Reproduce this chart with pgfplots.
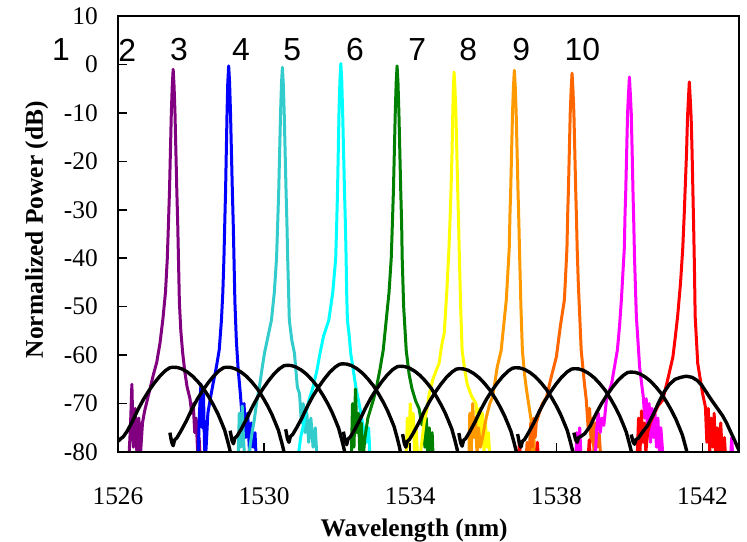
\documentclass[border=0pt]{standalone}
\usepackage{fontspec}
\setmainfont{Liberation Serif}
\newfontfamily\arial{Liberation Sans}
\usepackage{pgfplots}
\pgfplotsset{compat=1.18}

\definecolor{cpurple}{HTML}{800080}
\definecolor{cblue}{HTML}{0000FF}
\definecolor{cteal}{HTML}{33CCCC}
\definecolor{ccyan}{HTML}{00FFFF}
\definecolor{cgreen}{HTML}{008000}
\definecolor{cyellow}{HTML}{FFFF00}
\definecolor{corange}{HTML}{FF9900}
\definecolor{cdorange}{HTML}{FF6600}
\definecolor{cmagenta}{HTML}{FF00FF}
\definecolor{cred}{HTML}{FF0000}

\begin{document}
\begin{tikzpicture}
\begin{axis}[
    scale only axis,
    width=621bp, height=436bp,
    xmin=1526, xmax=1543, ymin=-80, ymax=10,
    xtick={1526,1530,1534,1538,1542},
    xticklabels={1526,1530,1534,1538,1542},
    ytick={-80,-70,-60,-50,-40,-30,-20,-10,0,10},
    yticklabels={-80,-70,-60,-50,-40,-30,-20,-10,0,10},
    tick pos=left, tick align=inside,
    major tick length=9bp,
    tick style={black, line width=1.5bp},
    axis line style={line width=2.4bp},
    ticklabel style={font=\fontsize{25.5}{30}\selectfont},
    yticklabel style={anchor=east, inner sep=0pt, xshift=-20bp},
    xticklabel style={anchor=north, inner sep=0pt, yshift=-35bp},
    xlabel={\textbf{Wavelength (nm)}},
    ylabel={\textbf{Normalized Power (dB)}},
    label style={font=\fontsize{25.5}{30}\selectfont},
    xlabel style={at={(axis description cs:0.477,0)}, anchor=base, yshift=-84bp},
    ylabel style={at={(axis description cs:-0.1208,0.51)}, anchor=base},
    clip mode=individual,
    axis on top,
    every axis plot/.append style={line join=round},
]

% channel spectra
\addplot[cpurple, line width=3bp] coordinates {
(1526.28,-84) (1526.34,-75) (1526.38,-66) (1526.42,-79) (1526.47,-71) (1526.52,-81) (1526.57,-73) (1526.62,-80) (1526.67,-74)
(1526.73,-71.5) (1526.81,-69) (1526.89,-66.5) (1526.97,-64) (1527.06,-61.5) (1527.15,-57.5) (1527.23,-52.5) (1527.30,-47)
(1527.35,-40) (1527.385,-32) (1527.41,-26) (1527.435,-18) (1527.46,-10) (1527.485,-4.5) (1527.51,-1.0)
(1527.535,-4.5) (1527.56,-10) (1527.585,-18) (1527.61,-26) (1527.635,-33) (1527.655,-40) (1527.68,-49) (1527.72,-55)
(1527.77,-59.5) (1527.83,-63.5) (1527.89,-66.5) (1527.97,-69) (1528.02,-72) (1528.06,-70) (1528.10,-76) (1528.14,-73)
(1528.18,-80) (1528.22,-77) (1528.27,-84)
};
\addplot[cblue, line width=3bp] coordinates {
(1528.18,-84) (1528.23,-72) (1528.27,-66) (1528.31,-75) (1528.34,-68) (1528.38,-83) (1528.42,-78) (1528.46,-72)
(1528.52,-69.3) (1528.60,-66) (1528.68,-63) (1528.77,-59) (1528.83,-53) (1528.87,-47) (1528.90,-40) (1528.925,-32)
(1528.945,-26) (1528.965,-18) (1528.985,-10) (1529.005,-3.8) (1529.03,-0.3)
(1529.055,-3.8) (1529.08,-10) (1529.105,-18) (1529.13,-26) (1529.155,-33) (1529.175,-40) (1529.20,-49) (1529.24,-57)
(1529.29,-63) (1529.35,-68) (1529.40,-73) (1529.45,-70) (1529.50,-77) (1529.55,-72) (1529.60,-80) (1529.65,-74)
(1529.70,-79) (1529.75,-76) (1529.80,-84)
};
\addplot[cteal, line width=3bp] coordinates {
(1529.28,-84) (1529.32,-72) (1529.36,-79) (1529.40,-70.5) (1529.44,-78) (1529.48,-83) (1529.56,-84) (1529.60,-79.6)
(1529.67,-76) (1529.73,-73.4) (1529.80,-69.5) (1529.87,-66.6) (1529.94,-63) (1530.01,-59.6) (1530.11,-56) (1530.20,-52.8)
(1530.28,-47) (1530.34,-40) (1530.375,-32) (1530.40,-26) (1530.425,-18) (1530.45,-10) (1530.475,-4.1) (1530.50,-0.6)
(1530.525,-4.1) (1530.55,-10) (1530.575,-18) (1530.60,-26) (1530.625,-33) (1530.645,-40) (1530.67,-47) (1530.69,-52.8)
(1530.76,-57) (1530.83,-59.6) (1530.91,-66.6) (1530.97,-68) (1531.02,-74) (1531.07,-70) (1531.12,-76) (1531.17,-72)
(1531.22,-78) (1531.28,-73) (1531.34,-79) (1531.40,-75) (1531.46,-83)
};
\addplot[ccyan, line width=3bp] coordinates {
(1530.90,-84) (1530.95,-80) (1531.00,-77) (1531.06,-75) (1531.14,-72) (1531.24,-69) (1531.34,-66.6) (1531.45,-63)
(1531.53,-59.6) (1531.63,-56) (1531.77,-52.8) (1531.88,-47) (1531.96,-40) (1531.99,-32) (1532.01,-26) (1532.03,-18)
(1532.05,-10) (1532.075,-3.3) (1532.10,0.2)
(1532.125,-3.3) (1532.15,-10) (1532.175,-18) (1532.20,-26) (1532.225,-33) (1532.245,-40) (1532.26,-47) (1532.28,-52.8)
(1532.33,-56) (1532.37,-59.6) (1532.44,-63) (1532.51,-66.6) (1532.60,-70) (1532.68,-73.4) (1532.74,-76) (1532.80,-78)
(1532.86,-75) (1532.90,-81) (1532.95,-84)
};
\addplot[cgreen, line width=3bp] coordinates {
(1532.38,-84) (1532.42,-70) (1532.46,-79) (1532.50,-67) (1532.54,-76) (1532.58,-72) (1532.62,-80) (1532.66,-74)
(1532.70,-82) (1532.76,-77) (1532.84,-73) (1532.92,-71) (1533.00,-69) (1533.08,-66.5) (1533.17,-63) (1533.26,-59)
(1533.34,-53) (1533.42,-47) (1533.48,-40) (1533.515,-32) (1533.54,-26) (1533.565,-18) (1533.59,-10) (1533.615,-3.8)
(1533.64,-0.3)
(1533.665,-3.8) (1533.69,-10) (1533.715,-18) (1533.74,-26) (1533.765,-33) (1533.78,-40) (1533.82,-50) (1533.89,-59)
(1533.97,-64) (1534.05,-67) (1534.15,-69.5) (1534.24,-71) (1534.32,-74.4) (1534.36,-72) (1534.40,-79) (1534.44,-73)
(1534.48,-81) (1534.52,-75) (1534.56,-80) (1534.60,-76) (1534.64,-84)
};
\addplot[cyellow, line width=3bp] coordinates {
(1533.88,-84) (1533.92,-73) (1533.96,-79) (1534.00,-70) (1534.04,-76) (1534.08,-72) (1534.12,-80) (1534.16,-75)
(1534.22,-84) (1534.30,-79) (1534.38,-74) (1534.46,-71) (1534.52,-68) (1534.62,-65) (1534.72,-63) (1534.79,-61.7)
(1534.86,-58) (1534.93,-55.5) (1535.00,-47) (1535.06,-38) (1535.095,-31) (1535.12,-25) (1535.145,-18) (1535.165,-10)
(1535.18,-5.1) (1535.20,-1.6)
(1535.225,-5.1) (1535.25,-10) (1535.275,-18) (1535.30,-26) (1535.325,-33) (1535.34,-38) (1535.38,-50) (1535.42,-59)
(1535.49,-63) (1535.56,-66) (1535.68,-68.5) (1535.80,-70) (1535.86,-76) (1535.90,-71) (1535.94,-78) (1535.98,-72)
(1536.02,-80) (1536.06,-74) (1536.10,-79) (1536.14,-76) (1536.20,-84)
};
\addplot[corange, line width=3bp] coordinates {
(1535.60,-84) (1535.63,-72) (1535.67,-80) (1535.71,-70) (1535.75,-77) (1535.79,-73) (1535.83,-81) (1535.87,-75)
(1535.92,-79) (1535.98,-77) (1536.05,-74) (1536.11,-72) (1536.18,-70) (1536.25,-68.7) (1536.32,-65.5) (1536.38,-62.5)
(1536.49,-59) (1536.57,-53) (1536.63,-48.6) (1536.71,-38) (1536.73,-31) (1536.75,-26) (1536.775,-18) (1536.80,-10)
(1536.825,-4.7) (1536.85,-1.2)
(1536.875,-4.7) (1536.90,-10) (1536.925,-18) (1536.95,-26) (1536.975,-33) (1536.99,-38) (1537.03,-50) (1537.07,-59)
(1537.13,-64) (1537.18,-67) (1537.25,-70.5) (1537.32,-74) (1537.35,-80) (1537.38,-76) (1537.42,-84)
};
\addplot[cdorange, line width=3bp] coordinates {
(1537.15,-84) (1537.20,-78) (1537.25,-81) (1537.30,-74) (1537.34,-79) (1537.38,-73) (1537.42,-77) (1537.45,-74)
(1537.53,-72) (1537.62,-70) (1537.73,-68.7) (1537.86,-64.5) (1538.00,-60.4) (1538.11,-54) (1538.22,-48.6) (1538.29,-38)
(1538.31,-31) (1538.33,-26) (1538.355,-18) (1538.38,-10) (1538.405,-5.3) (1538.43,-1.8)
(1538.455,-5.3) (1538.48,-10) (1538.505,-18) (1538.53,-26) (1538.555,-33) (1538.57,-38) (1538.60,-45) (1538.68,-59)
(1538.77,-66) (1538.82,-69.3) (1538.87,-75) (1538.91,-71) (1538.95,-78) (1538.99,-73) (1539.03,-80) (1539.07,-74)
(1539.12,-79) (1539.17,-76) (1539.24,-84)
};
\addplot[cmagenta, line width=3bp] coordinates {
(1538.52,-84) (1538.56,-76) (1538.60,-80) (1538.64,-75) (1538.68,-82) (1538.80,-84) (1539.05,-84) (1539.10,-75.5)
(1539.15,-72) (1539.20,-76) (1539.25,-73) (1539.30,-74.5) (1539.37,-69.3) (1539.44,-67.5) (1539.51,-66) (1539.59,-62.5)
(1539.67,-59) (1539.73,-54) (1539.78,-48.6) (1539.86,-38) (1539.88,-31) (1539.90,-26) (1539.925,-18) (1539.95,-10)
(1539.975,-6.1) (1540.00,-2.6)
(1540.025,-6.1) (1540.05,-10) (1540.075,-18) (1540.10,-27) (1540.12,-33) (1540.14,-40) (1540.19,-52) (1540.28,-62.5)
(1540.38,-68.7) (1540.42,-73) (1540.46,-69) (1540.50,-76) (1540.54,-70) (1540.58,-78) (1540.62,-71) (1540.66,-77)
(1540.70,-72) (1540.74,-79) (1540.78,-73) (1540.82,-80) (1540.86,-75) (1540.90,-79) (1540.94,-84) (1542.75,-84)
(1542.80,-77) (1542.85,-84)
};
\addplot[cred, line width=3bp] coordinates {
(1536.94,-84) (1536.99,-78) (1537.04,-84) (1537.43,-84) (1537.48,-78) (1537.53,-84) (1538.85,-84) (1538.90,-77.5)
(1538.95,-84) (1540.20,-84) (1540.25,-73) (1540.29,-80) (1540.33,-71.5) (1540.37,-78) (1540.41,-74) (1540.45,-80)
(1540.50,-76) (1540.57,-74) (1540.64,-72.8) (1540.78,-70.5) (1540.91,-69.3) (1541.05,-65) (1541.19,-60.4) (1541.26,-56)
(1541.32,-52) (1541.40,-45) (1541.46,-38) (1541.50,-31) (1541.53,-25) (1541.565,-18) (1541.59,-11) (1541.615,-7.1)
(1541.64,-3.6)
(1541.665,-7.1) (1541.69,-11) (1541.715,-18) (1541.74,-27) (1541.76,-34) (1541.78,-42) (1541.80,-52) (1541.87,-61.7)
(1542.00,-67.8) (1542.08,-70.7) (1542.12,-78) (1542.16,-71) (1542.20,-80) (1542.24,-73) (1542.28,-79) (1542.32,-72)
(1542.36,-81) (1542.40,-75) (1542.45,-80) (1542.50,-74) (1542.55,-82) (1542.60,-77) (1542.66,-84)
};

% filter passbands
\addplot[black, line width=3.4bp] coordinates {
(1526.00,-77.8) (1526.08,-77.2) (1526.14,-76.9) (1526.25,-75.7) (1526.40,-73.6) (1526.55,-71.2) (1526.70,-69.1)
(1526.85,-67.3) (1527.00,-65.7) (1527.15,-64.3) (1527.30,-63.2) (1527.42,-62.6) (1527.50,-62.5) (1527.62,-62.55)
(1527.75,-62.85) (1527.90,-63.5) (1528.05,-64.4) (1528.20,-65.6) (1528.35,-67.0) (1528.50,-68.8) (1528.62,-70.4)
(1528.74,-72.2) (1528.84,-74.0) (1528.92,-75.5) (1529.00,-77.7) (1529.06,-79.5) (1529.12,-81.7)
};
\addplot[black, line width=3.4bp] coordinates {
(1527.42,-76.0) (1527.47,-78.0) (1527.51,-78.7) (1527.55,-77.5) (1527.61,-77.1) (1527.72,-75.7) (1527.87,-73.6)
(1528.02,-71.2) (1528.17,-69.1) (1528.32,-67.3) (1528.47,-65.7) (1528.62,-64.3) (1528.77,-63.2) (1528.89,-62.6)
(1528.97,-62.5) (1529.09,-62.55) (1529.22,-62.85) (1529.37,-63.5) (1529.52,-64.4) (1529.67,-65.6) (1529.82,-67.0)
(1529.97,-68.8) (1530.09,-70.4) (1530.21,-72.2) (1530.31,-74.0) (1530.39,-75.5) (1530.47,-77.7) (1530.53,-79.5)
(1530.59,-81.7)
};
\addplot[black, line width=3.4bp] coordinates {
(1529.07,-75.6) (1529.12,-77.6) (1529.16,-78.3) (1529.20,-77.1) (1529.26,-76.7) (1529.37,-75.3) (1529.52,-73.2)
(1529.67,-70.8) (1529.82,-68.7) (1529.97,-66.9) (1530.12,-65.3) (1530.27,-63.9) (1530.42,-62.8) (1530.54,-62.2)
(1530.62,-62.1) (1530.74,-62.15) (1530.87,-62.45) (1531.02,-63.1) (1531.17,-64.0) (1531.32,-65.2) (1531.47,-66.6)
(1531.62,-68.4) (1531.74,-70.0) (1531.86,-71.8) (1531.96,-73.6) (1532.04,-75.1) (1532.12,-77.3) (1532.18,-79.1)
(1532.24,-81.3)
};
\addplot[black, line width=3.4bp] coordinates {
(1530.59,-75.3) (1530.64,-77.3) (1530.68,-78.0) (1530.72,-76.8) (1530.78,-76.4) (1530.89,-75.0) (1531.04,-72.9)
(1531.19,-70.5) (1531.34,-68.4) (1531.49,-66.6) (1531.64,-65.0) (1531.79,-63.6) (1531.94,-62.5) (1532.06,-61.9)
(1532.14,-61.8) (1532.26,-61.85) (1532.39,-62.15) (1532.54,-62.8) (1532.69,-63.7) (1532.84,-64.9) (1532.99,-66.3)
(1533.14,-68.1) (1533.26,-69.7) (1533.38,-71.5) (1533.48,-73.3) (1533.56,-74.8) (1533.64,-77.0) (1533.70,-78.8)
(1533.76,-81.0)
};
\addplot[black, line width=3.4bp] coordinates {
(1532.17,-75.8) (1532.22,-77.8) (1532.26,-78.5) (1532.30,-77.3) (1532.36,-76.9) (1532.47,-75.5) (1532.62,-73.4)
(1532.77,-71.0) (1532.92,-68.9) (1533.07,-67.1) (1533.22,-65.5) (1533.37,-64.1) (1533.52,-63.0) (1533.64,-62.4)
(1533.72,-62.3) (1533.84,-62.35) (1533.97,-62.65) (1534.12,-63.3) (1534.27,-64.2) (1534.42,-65.4) (1534.57,-66.8)
(1534.72,-68.6) (1534.84,-70.2) (1534.96,-72.0) (1535.06,-73.8) (1535.14,-75.3) (1535.22,-77.5) (1535.28,-79.3)
(1535.34,-81.5)
};
\addplot[black, line width=3.4bp] coordinates {
(1533.79,-76.3) (1533.84,-78.3) (1533.88,-79.0) (1533.92,-77.8) (1533.98,-77.4) (1534.09,-76.0) (1534.24,-73.9)
(1534.39,-71.5) (1534.54,-69.4) (1534.69,-67.6) (1534.84,-66.0) (1534.99,-64.6) (1535.14,-63.5) (1535.26,-62.9)
(1535.34,-62.8) (1535.46,-62.85) (1535.59,-63.15) (1535.74,-63.8) (1535.89,-64.7) (1536.04,-65.9) (1536.19,-67.3)
(1536.34,-69.1) (1536.46,-70.7) (1536.58,-72.5) (1536.68,-74.3) (1536.76,-75.8) (1536.84,-78.0) (1536.90,-79.8)
(1536.96,-82.0)
};
\addplot[black, line width=3.4bp] coordinates {
(1535.33,-76.1) (1535.38,-78.1) (1535.42,-78.8) (1535.46,-77.6) (1535.52,-77.2) (1535.63,-75.8) (1535.78,-73.7)
(1535.93,-71.3) (1536.08,-69.2) (1536.23,-67.4) (1536.38,-65.8) (1536.53,-64.4) (1536.68,-63.3) (1536.80,-62.7)
(1536.88,-62.6) (1537.00,-62.65) (1537.13,-62.95) (1537.28,-63.6) (1537.43,-64.5) (1537.58,-65.7) (1537.73,-67.1)
(1537.88,-68.9) (1538.00,-70.5) (1538.12,-72.3) (1538.22,-74.1) (1538.30,-75.6) (1538.38,-77.8) (1538.44,-79.6)
(1538.50,-81.8)
};
\addplot[black, line width=3.4bp] coordinates {
(1536.94,-76.3) (1536.99,-78.3) (1537.03,-79.0) (1537.07,-77.8) (1537.13,-77.4) (1537.24,-76.0) (1537.39,-73.9)
(1537.54,-71.5) (1537.69,-69.4) (1537.84,-67.6) (1537.99,-66.0) (1538.14,-64.6) (1538.29,-63.5) (1538.41,-62.9)
(1538.49,-62.8) (1538.61,-62.85) (1538.74,-63.15) (1538.89,-63.8) (1539.04,-64.7) (1539.19,-65.9) (1539.34,-67.3)
(1539.49,-69.1) (1539.61,-70.7) (1539.73,-72.5) (1539.83,-74.3) (1539.91,-75.8) (1539.99,-78.0) (1540.05,-79.8)
(1540.11,-82.0)
};
\addplot[black, line width=3.4bp] coordinates {
(1538.48,-76.0) (1538.53,-77.5) (1538.57,-78.0) (1538.61,-77.0) (1538.67,-76.8) (1538.78,-76.2) (1538.93,-74.6)
(1539.08,-72.2) (1539.23,-70.1) (1539.38,-68.3) (1539.53,-66.7) (1539.68,-65.3) (1539.83,-64.2) (1539.95,-63.6)
(1540.03,-63.5) (1540.15,-63.55) (1540.28,-63.85) (1540.43,-64.5) (1540.58,-65.4) (1540.73,-66.6) (1540.88,-68.0)
(1541.03,-69.8) (1541.15,-71.4) (1541.27,-73.2) (1541.37,-75.0) (1541.45,-76.5) (1541.53,-78.7) (1541.59,-80.5)
(1541.65,-82.7)
};
\addplot[black, line width=3.4bp] coordinates {
(1540.05,-76.4) (1540.10,-77.9) (1540.14,-78.4) (1540.18,-77.4) (1540.24,-77.2) (1540.35,-76.0) (1540.50,-74.5)
(1540.65,-72.3) (1540.80,-69.8) (1540.95,-67.6) (1541.10,-66.0) (1541.25,-65.0) (1541.40,-64.6) (1541.52,-64.4)
(1541.60,-64.4) (1541.72,-64.6) (1541.85,-65.2) (1541.98,-66.2) (1542.11,-67.7) (1542.25,-69.3) (1542.40,-70.9)
(1542.55,-72.5) (1542.66,-74.0) (1542.78,-76.0) (1542.88,-77.6) (1542.96,-79.0) (1543.05,-80.5)
};

% channel numbers
\node[font=\arial\fontsize{32}{38}\selectfont] at (axis cs:1524.44,3) {1};
\node[font=\arial\fontsize{32}{38}\selectfont] at (axis cs:1526.25,3) {2};
\node[font=\arial\fontsize{32}{38}\selectfont] at (axis cs:1527.67,3) {3};
\node[font=\arial\fontsize{32}{38}\selectfont] at (axis cs:1529.37,3) {4};
\node[font=\arial\fontsize{32}{38}\selectfont] at (axis cs:1530.77,3) {5};
\node[font=\arial\fontsize{32}{38}\selectfont] at (axis cs:1532.49,3) {6};
\node[font=\arial\fontsize{32}{38}\selectfont] at (axis cs:1534.19,3) {7};
\node[font=\arial\fontsize{32}{38}\selectfont] at (axis cs:1535.59,3) {8};
\node[font=\arial\fontsize{32}{38}\selectfont] at (axis cs:1537.04,3) {9};
\node[font=\arial\fontsize{32}{38}\selectfont] at (axis cs:1538.71,3) {10};
\end{axis}
\pgfresetboundingbox
\useasboundingbox (-118bp,-90bp) rectangle (629bp,452bp);
\end{tikzpicture}
\end{document}
